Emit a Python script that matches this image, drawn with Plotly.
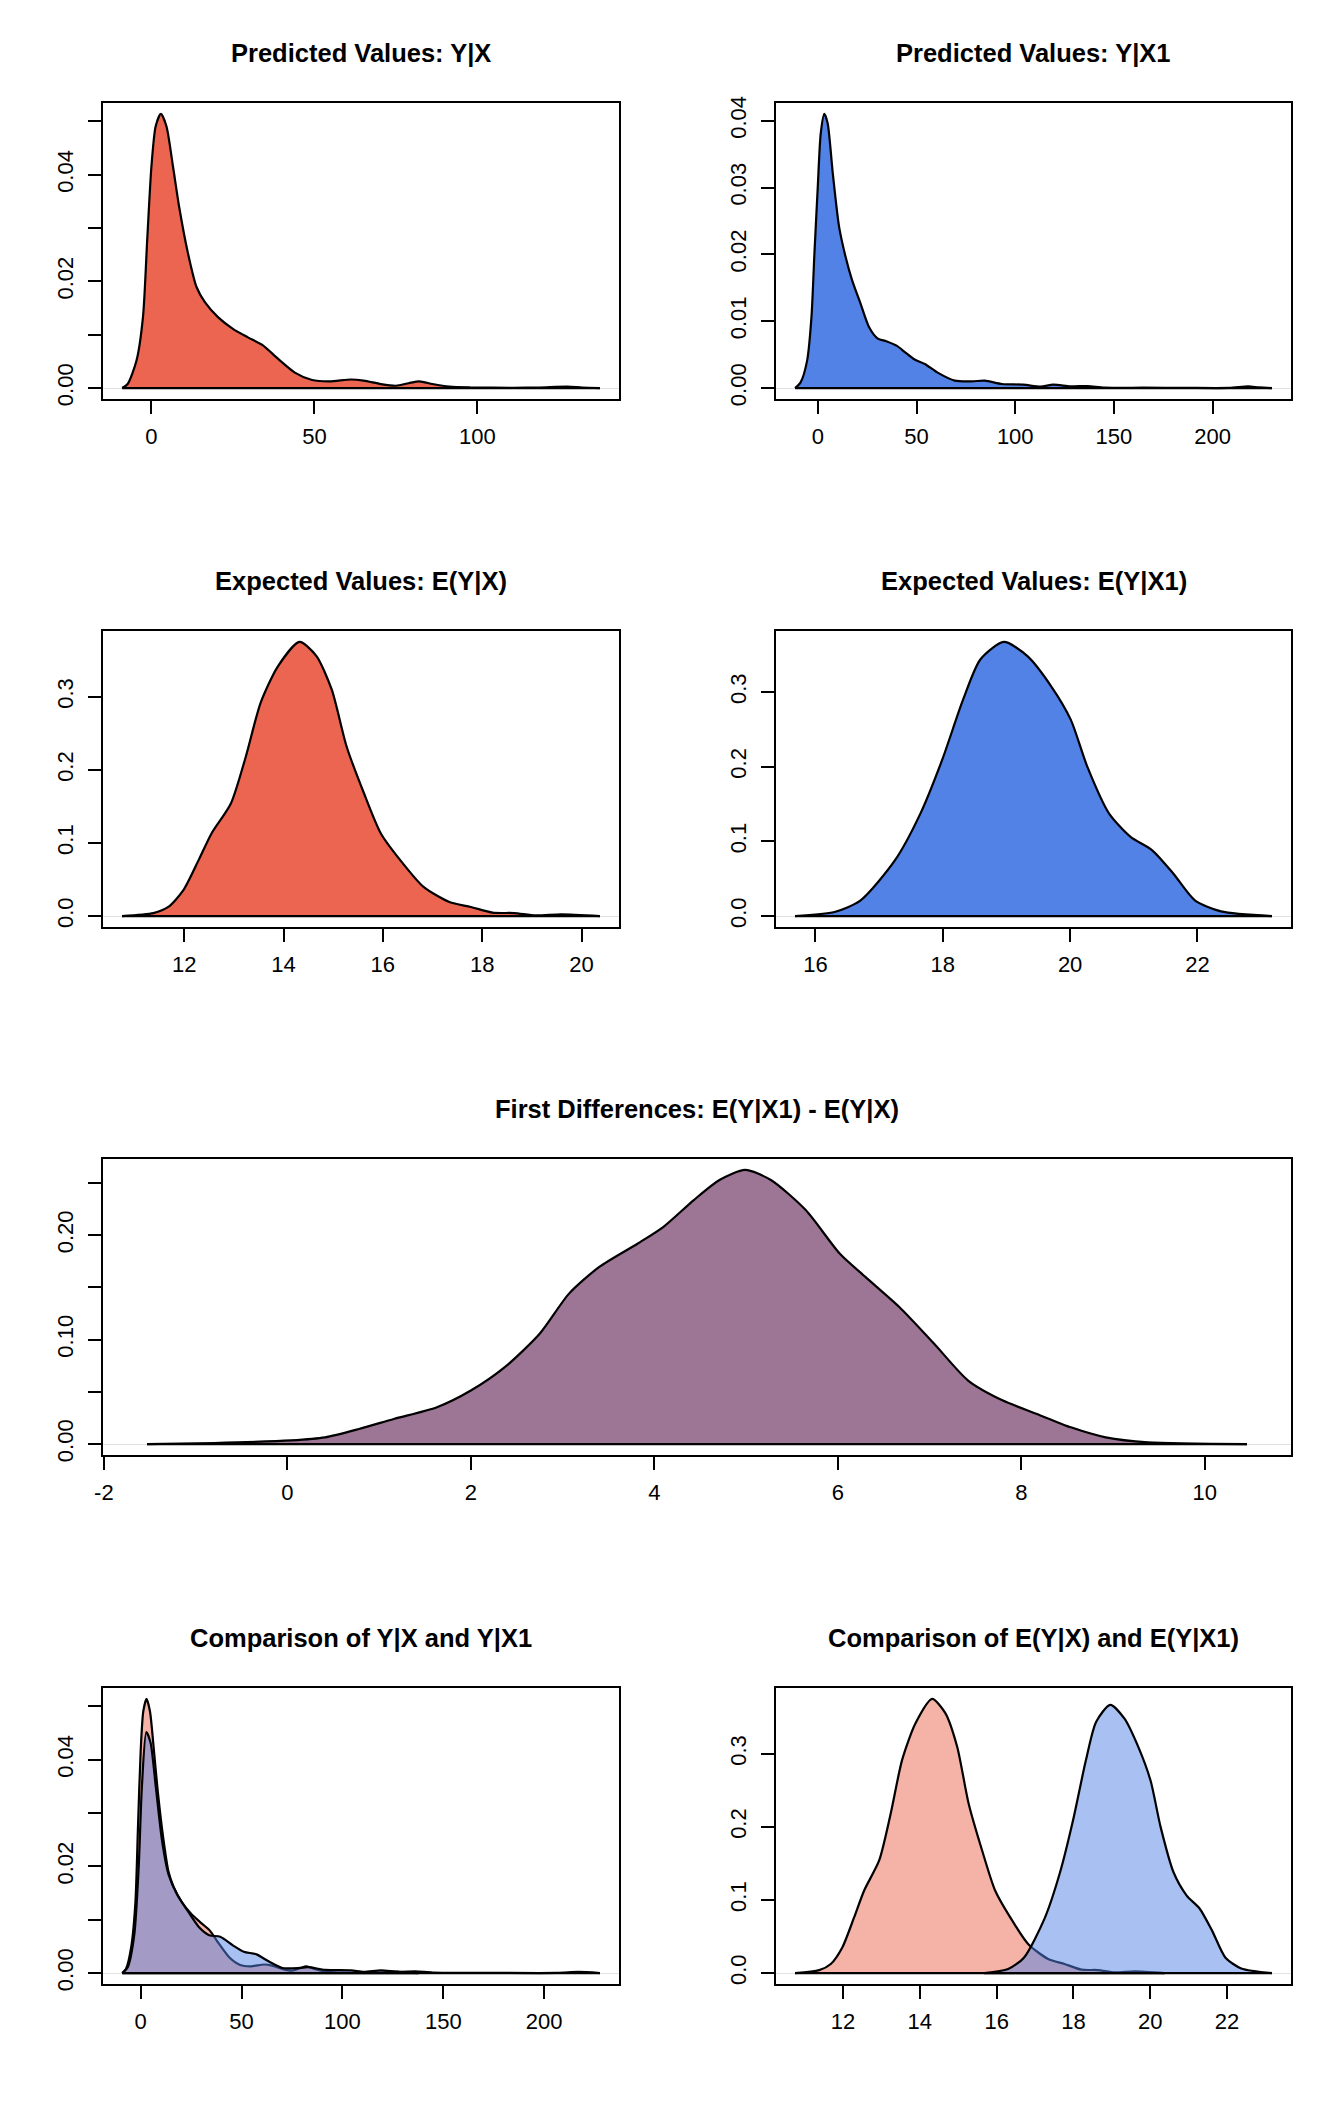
import plotly.graph_objects as go

# ---------------- data ----------------
# Predicted values Y|X  (density curve)
pv_x_x = [-9.0, -7.3, -4.6, -2.6, -1.3, 0, 1.3, 2.9, 4.6, 6.6, 8.5, 11.2, 13.8, 16.4, 20.4, 25, 29.6,
          34.2, 38.8, 44, 49.3, 54.6, 61.2, 65.1, 70.4, 75, 78.9, 82.2, 86.2, 91.4, 98, 111.2, 119,
          127.6, 132.2, 137.6]
pv_x_y = [0, 0.00075, 0.0051, 0.0133, 0.0278, 0.0416, 0.0491, 0.0514, 0.0491, 0.0416, 0.034, 0.0253,
          0.019, 0.0161, 0.0133, 0.0111, 0.0095, 0.008, 0.0055, 0.0029, 0.0015, 0.00125, 0.0016, 0.0014,
          0.00075, 0.00043, 0.0009, 0.00125, 0.00075, 0.00025, 0.0001, 0.00005, 0.0001, 0.00025, 0.0001, 0]

# Predicted values Y|X1
pv_x1_x = [-11.5, -8.7, -5.4, -3.2, -1.7, 0, 1.5, 3.3, 5, 7.6, 10.8, 14.1, 17.4, 21.7, 26, 30.4, 34.7,
           40.1, 44.4, 48.8, 54.2, 60.7, 69.4, 78.1, 84.6, 93.3, 104.1, 112.8, 119.3, 128, 136.7, 145.3,
           164.9, 186.6, 208.3, 218, 223.4, 230]
pv_x1_y = [0, 0.00085, 0.0041, 0.0106, 0.0201, 0.0301, 0.0381, 0.041, 0.0396, 0.0321, 0.0241, 0.0196,
           0.0161, 0.0126, 0.0091, 0.0074, 0.0070, 0.0063, 0.0053, 0.0043, 0.0036, 0.0023, 0.0011, 0.001,
           0.0011, 0.0006, 0.0005, 0.0002, 0.0005, 0.00025, 0.0003, 0.00005, 0.00005, 0.00002, 0.00002,
           0.00025, 0.0001, 0]

# Expected values E(Y|X)
ev_x_x = [10.75, 11.38, 11.68, 11.98, 12.29, 12.55, 12.94, 13.24, 13.54, 13.89, 14.32, 14.66, 14.97,
          15.27, 15.62, 15.96, 16.35, 16.82, 17.34, 17.77, 18.21, 18.64, 19.08, 19.59, 20.37]
ev_x_y = [0, 0.004, 0.0124, 0.035, 0.0765, 0.113, 0.154, 0.218, 0.292, 0.342, 0.375, 0.356, 0.31,
          0.232, 0.168, 0.113, 0.0765, 0.0398, 0.0192, 0.0124, 0.0046, 0.0041, 0.0009, 0.0023, 0]

# Expected values E(Y|X1)
ev_x1_x = [15.68, 16.30, 16.71, 17.25, 17.65, 17.99, 18.32, 18.59, 18.96, 19.33, 19.70, 20.01, 20.27,
           20.61, 20.95, 21.29, 21.62, 21.96, 22.37, 23.17]
ev_x1_y = [0, 0.0054, 0.021, 0.0748, 0.1375, 0.209, 0.29, 0.3435, 0.367, 0.348, 0.308, 0.263, 0.2,
           0.1375, 0.106, 0.088, 0.057, 0.021, 0.0063, 0]

# First differences E(Y|X1) - E(Y|X)
fd_x = [-1.53, -0.80, 0.04, 0.41, 0.78, 1.16, 1.63, 2.0, 2.37, 2.75, 3.07, 3.40, 3.82, 4.10, 4.43, 4.71,
        4.99, 5.27, 5.65, 6.02, 6.30, 6.67, 7.05, 7.42, 7.80, 8.17, 8.54, 8.92, 9.38, 10.46]
fd_y = [0, 0.001, 0.0035, 0.0064, 0.0144, 0.024, 0.0352, 0.0512, 0.0736, 0.1056, 0.144, 0.1696, 0.192,
        0.208, 0.2336, 0.2528, 0.2624, 0.2528, 0.224, 0.1824, 0.16, 0.1312, 0.096, 0.0608, 0.0416,
        0.0288, 0.016, 0.0064, 0.0016, 0]

# Y|X1 density as drawn in the comparison panel
cmp_x1_x = [-9.2, -6.4, -3.2, -1.0, 0.6, 2.8, 4.9, 7.5, 10.6, 13.8, 18.1, 23.4, 28.7, 34.0, 39.4, 45.7,
            51.1, 57.4, 63.8, 70.2, 78.7, 83, 91.5, 104.3, 110.6, 119.2, 127.7, 136.1, 144.7, 163.8,
            206.4, 217, 227.6]
cmp_x1_y = [0, 0.0011, 0.0071, 0.0198, 0.0349, 0.0452, 0.0432, 0.0349, 0.0248, 0.0185, 0.0147, 0.0116,
            0.0087, 0.0071, 0.0068, 0.0052, 0.004, 0.0035, 0.0021, 0.00095, 0.00095, 0.0011, 0.0006,
            0.0005, 0.0002, 0.0005, 0.0002, 0.0003, 0.0001, 0.00005, 0.00002, 0.0002, 0]

# Titles
titles = ["Predicted Values: Y|X", "Predicted Values: Y|X1",
          "Expected Values: E(Y|X)", "Expected Values: E(Y|X1)",
          "First Differences: E(Y|X1) - E(Y|X)",
          "Comparison of Y|X and Y|X1", "Comparison of E(Y|X) and E(Y|X1)"]

# Tick values / labels
xt1 = [0, 50, 100]
xt2 = [0, 50, 100, 150, 200]
xt3 = [12, 14, 16, 18, 20]
xt4 = [16, 18, 20, 22]
xt5 = [-2, 0, 2, 4, 6, 8, 10]
xt6 = [0, 50, 100, 150, 200]
xt7 = [12, 14, 16, 18, 20, 22]
yt1 = [0, 0.01, 0.02, 0.03, 0.04, 0.05]
yl1 = ["0.00", "", "0.02", "", "0.04", ""]
yt2 = [0, 0.01, 0.02, 0.03, 0.04]
yl2 = ["0.00", "0.01", "0.02", "0.03", "0.04"]
yt3 = [0, 0.1, 0.2, 0.3]
yl3 = ["0.0", "0.1", "0.2", "0.3"]
yt5 = [0, 0.05, 0.10, 0.15, 0.20, 0.25]
yl5 = ["0.00", "", "0.10", "", "0.20", ""]

# ---------------- styling ----------------
RED = "rgb(235,101,80)"
BLUE = "rgb(82,130,230)"
PURPLE = "rgb(157,117,149)"
RED_A = "rgba(235,101,80,0.5)"
BLUE_A = "rgba(82,130,230,0.5)"
FONT = "Liberation Sans, Arial, Helvetica, sans-serif"

W, H = 1344, 2112
COLS = {"L": (103, 619), "R": (776, 1291), "W": (103, 1291)}
ROWS = [103, 631, 1159, 1688]
PH = 296

panels = [
    dict(col="L", row=0, series=[(pv_x_x, pv_x_y, RED)], xt=xt1, yt=yt1, yl=yl1),
    dict(col="R", row=0, series=[(pv_x1_x, pv_x1_y, BLUE)], xt=xt2, yt=yt2, yl=yl2),
    dict(col="L", row=1, series=[(ev_x_x, ev_x_y, RED)], xt=xt3, yt=yt3, yl=yl3),
    dict(col="R", row=1, series=[(ev_x1_x, ev_x1_y, BLUE)], xt=xt4, yt=yt3, yl=yl3),
    dict(col="W", row=2, series=[(fd_x, fd_y, PURPLE)], xt=xt5, yt=yt5, yl=yl5),
    dict(col="L", row=3, series=[(pv_x_x, pv_x_y, RED_A), (cmp_x1_x, cmp_x1_y, BLUE_A)], xt=xt6, yt=yt1, yl=yl1),
    dict(col="R", row=3, series=[(ev_x_x, ev_x_y, RED_A), (ev_x1_x, ev_x1_y, BLUE_A)], xt=xt7, yt=yt3, yl=yl3),
]

fig = go.Figure()
layout = dict(width=W, height=H, margin=dict(l=0, r=0, t=0, b=0, pad=0, autoexpand=False),
              paper_bgcolor="white", plot_bgcolor="white", showlegend=False,
              annotations=[])

axis_common = dict(showline=True, linecolor="black", linewidth=1.6, mirror=True,
                   ticks="outside", ticklen=13, tickwidth=1.6, tickcolor="black",
                   showgrid=False, fixedrange=True, automargin=False,
                   tickfont=dict(family=FONT, size=22, color="black"))

for i, p in enumerate(panels, start=1):
    xa = "x" if i == 1 else f"x{i}"
    ya = "y" if i == 1 else f"y{i}"
    allx = [v for s in p["series"] for v in s[0]]
    ally = [v for s in p["series"] for v in s[1]]
    xmin, xmax = min(allx), max(allx)
    ymax = max(ally)
    xpad = 0.04 * (xmax - xmin)
    for xs, ys, col in p["series"]:
        # filled density curve
        fig.add_trace(go.Scatter(
            x=xs, y=ys, xaxis=xa, yaxis=ya,
            mode="lines", fill="tozeroy", fillcolor=col,
            line=dict(color="black", width=2.2, shape="spline", smoothing=0.7),
            hoverinfo="skip", showlegend=False))
        # polygon bottom edge (closing segment of the density polygon)
        fig.add_trace(go.Scatter(
            x=[xs[0], xs[-1]], y=[ys[0], ys[-1]], xaxis=xa, yaxis=ya,
            mode="lines", line=dict(color="black", width=2.2),
            hoverinfo="skip", showlegend=False))
    a, b = COLS[p["col"]]
    top = ROWS[p["row"]]
    xd = [a / W, b / W]
    yd = [1 - (top + PH) / H, 1 - top / H]
    layout["xaxis" if i == 1 else f"xaxis{i}"] = dict(
        axis_common, domain=xd, anchor=ya, range=[xmin - xpad, xmax + xpad],
        tickmode="array", tickvals=p["xt"], ticktext=[str(v) for v in p["xt"]],
        zeroline=False, ticklabelstandoff=4)
    layout["yaxis" if i == 1 else f"yaxis{i}"] = dict(
        axis_common, domain=yd, anchor=xa, range=[-0.04 * ymax, 1.04 * ymax],
        tickmode="array", tickvals=p["yt"], ticktext=p["yl"], tickangle=-90,
        zeroline=True, zerolinecolor="#E2E2E2", zerolinewidth=1, ticklabelstandoff=6)
    layout["annotations"].append(dict(
        text="<b>" + titles[i - 1] + "</b>", xref="paper", yref="paper",
        x=(a + b) / 2 / W, y=1 - (top - 50) / H, xanchor="center", yanchor="middle",
        showarrow=False, font=dict(family=FONT, size=25.5, color="black")))

fig.update_layout(**layout)

post = ("document.documentElement.style.margin='0';document.body.style.margin='0';"
        "document.body.style.padding='0';"
        "var gds=document.getElementsByClassName('plotly-graph-div');"
        "for(var k=0;k<gds.length;k++){gds[k].style.position='absolute';"
        "gds[k].style.left='0px';gds[k].style.top='0px';}")
fig.write_html("out.html", config={"displayModeBar": False}, post_script=post)
